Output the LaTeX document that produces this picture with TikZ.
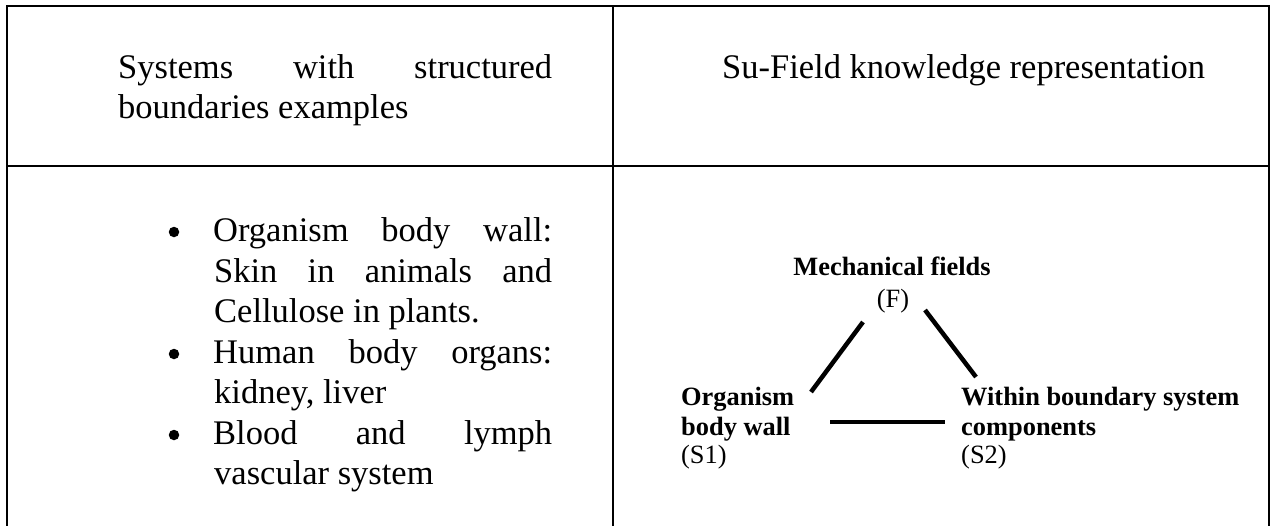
\documentclass[tikz,border=0pt]{standalone}
\usepackage{fontspec}
\setmainfont{Liberation Serif}
\begin{document}
\begin{tikzpicture}[x=1pt,y=-1pt,
  grid/.style={line width=1.7pt,line cap=rect},
  link/.style={line width=4.5pt},
  dot/.style={circle,fill=black,inner sep=0pt,minimum size=10.5pt},
  big/.style={inner sep=0pt,anchor=base west,font=\fontsize{34.5pt}{40pt}\selectfont},
  small/.style={inner sep=0pt,anchor=base west,font=\fontsize{26.4pt}{29pt}\selectfont},
  smallb/.style={small,font=\fontsize{26.4pt}{29pt}\selectfont\bfseries}]
\useasboundingbox (0,0) rectangle (1272,525);
% table rules
\draw[grid] (7,6) -- (1269,6);
\draw[grid] (7,166) -- (1269,166);
\draw[grid] (7,6) -- (7,530);
\draw[grid] (613,6) -- (613,530);
\draw[grid] (1269,6) -- (1269,530);
% header
\node[big] (h1) at (118,78) {\makebox[434pt][s]{Systems with structured}};
\node[big] (h2) at (118,118) {boundaries examples};
\node[big] (h3) at (722,78) {Su-Field knowledge representation};
% bullets
\node[dot] (b1) at (174,232) {};
\node[dot] (b2) at (174,354) {};
\node[dot] (b3) at (174,435) {};
\node[big] (l1) at (213,241) {\makebox[339pt][s]{Organism body wall:}};
\node[big] (l2) at (214,282) {\makebox[338pt][s]{Skin in animals and}};
\node[big] (l3) at (214,322) {Cellulose in plants.};
\node[big] (l4) at (213,363) {\makebox[339pt][s]{Human body organs:}};
\node[big] (l5) at (214,403) {kidney, liver};
\node[big] (l6) at (213,444) {\makebox[339pt][s]{Blood and lymph}};
\node[big] (l7) at (214,484) {vascular system};
% Su-Field diagram
\node[smallb,anchor=base] (F) at (892,275) {Mechanical fields};
\node[small,anchor=base] (Fs) at (893,307) {(F)};
\node[smallb] (S1a) at (681,405) {Organism};
\node[smallb] (S1b) at (681,435) {body wall};
\node[small] (S1c) at (681,463) {(S1)};
\node[smallb] (S2a) at (961,405) {Within boundary system};
\node[smallb] (S2b) at (961,435) {components};
\node[small] (S2c) at (961,463) {(S2)};
\coordinate (fl) at (863,322);
\coordinate (s1t) at (811,392);
\coordinate (fr) at (925,310);
\coordinate (s2t) at (976,377);
\coordinate (s1r) at (830,422);
\coordinate (s2l) at (945,422);
\draw[link] (fl) -- (s1t);
\draw[link] (fr) -- (s2t);
\draw[link] (s1r) -- (s2l);
\end{tikzpicture}
\end{document}
